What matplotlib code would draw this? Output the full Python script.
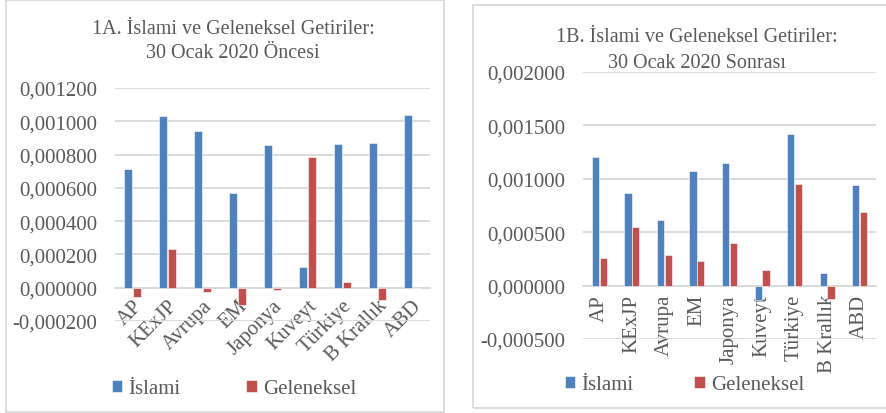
import matplotlib.pyplot as plt
import numpy as np
from matplotlib.patches import Rectangle

# Data
categories = ["AP", "KExJP", "Avrupa", "EM", "Japonya", "Kuveyt", "Türkiye", "B Krallık", "ABD"]

islami_before = [0.000714, 0.001030, 0.000940, 0.000568, 0.000860, 0.000122, 0.000864, 0.000872, 0.001036]
geleneksel_before = [-0.000056, 0.000230, -0.000028, -0.000104, -0.000014, 0.000788, 0.000032, -0.000072, 0.0]

islami_after = [0.001203, 0.000866, 0.000613, 0.001069, 0.001147, -0.000134, 0.001419, 0.000119, 0.000941]
geleneksel_after = [0.000259, 0.000553, 0.000291, 0.000231, 0.000400, 0.000144, 0.000953, -0.000122, 0.000688]

ticks_before = [-0.0002, 0.0, 0.0002, 0.0004, 0.0006, 0.0008, 0.0010, 0.0012]
ticks_after = [-0.0005, 0.0, 0.0005, 0.0010, 0.0015, 0.0020]

BLUE = "#4F81BD"
RED = "#C0504D"
GRID = "#D9D9D9"
TEXT = "#595959"

plt.rcParams['font.family'] = ['Liberation Serif', 'DejaVu Serif']

W, H = 887, 414
fig = plt.figure(figsize=(W / 100, H / 100), dpi=100)


def fx(px):
    return px / W


def fy(py):
    return 1 - py / H


# Panel borders
fig.patches.append(Rectangle((fx(6), fy(412.5)), fx(444 - 6), fy(1) - fy(412.5),
                             transform=fig.transFigure, facecolor='none',
                             edgecolor=GRID, linewidth=1.3))
fig.patches.append(Rectangle((fx(473.5), fy(409)), fx(890 - 473.5), fy(5.5) - fy(409),
                             transform=fig.transFigure, facecolor='none',
                             edgecolor=GRID, linewidth=1.3))


def fmt(v):
    s = f"{v:.6f}".replace(".", ",")
    if s.startswith("-0,000000"):
        s = s[1:]
    return s


def draw_panel(rect, islami, geleneksel, ticks, ylim, rot, title_lines, title_x, title_ys,
               legend_x, legend_y, colspace):
    ax = fig.add_axes(rect)
    x = np.arange(len(categories))
    w = 0.22
    ax.bar(x - 0.12, islami, w, color=BLUE, edgecolor='white', linewidth=0.4,
           label="İslami", zorder=3)
    ax.bar(x + 0.12, geleneksel, w, color=RED, edgecolor='white', linewidth=0.4,
           label="Geleneksel", zorder=3)

    ax.set_xlim(-0.5, len(categories) - 0.5)
    ax.set_ylim(*ylim)
    ax.set_yticks(ticks)
    ax.set_yticklabels([fmt(t) for t in ticks])
    ax.yaxis.grid(True, color=GRID, linewidth=1.3, zorder=0)
    ax.set_axisbelow(True)

    for side in ['top', 'right', 'left']:
        ax.spines[side].set_visible(False)
    ax.spines['bottom'].set_position(('data', 0))
    ax.spines['bottom'].set_color(GRID)
    ax.spines['bottom'].set_linewidth(1.3)

    ax.set_xticks(x)
    if rot == 45:
        ax.set_xticklabels(categories, rotation=45, ha='right', va='top',
                           rotation_mode='anchor')
    else:
        ax.set_xticklabels(categories, rotation=90, ha='center', va='top')
    ax.tick_params(axis='both', length=0, colors=TEXT, labelsize=15)
    ax.tick_params(axis='y', pad=13)
    ax.tick_params(axis='x', pad=6)

    for line, y in zip(title_lines, title_ys):
        fig.text(fx(title_x), fy(y), line, ha='center', va='center',
                 fontsize=14.5, color=TEXT)

    ax.legend(loc='center left', bbox_to_anchor=(fx(legend_x), fy(legend_y)),
              bbox_transform=fig.transFigure, ncol=2, frameon=False,
              handlelength=0.5, handleheight=0.5, handletextpad=0.3,
              columnspacing=colspace, borderaxespad=0, borderpad=0,
              fontsize=15, labelcolor=TEXT)
    return ax


draw_panel([fx(115), fy(322), fx(430 - 115), fy(89) - fy(322)],
           islami_before, geleneksel_before, ticks_before, (-0.0002, 0.0012), 45,
           ["1A. İslami ve Geleneksel Getiriler:", "30 Ocak 2020 Öncesi"],
           233, [30, 53], 112, 390, 3.15)

draw_panel([fx(583), fy(340), fx(876 - 583), fy(73) - fy(340)],
           islami_after, geleneksel_after, ticks_after, (-0.0005, 0.0020), 90,
           ["1B. İslami ve Geleneksel Getiriler:", "30 Ocak 2020 Sonrası"],
           697, [38, 63], 565, 386, 2.9)

fig.savefig("out.png", dpi=100)
